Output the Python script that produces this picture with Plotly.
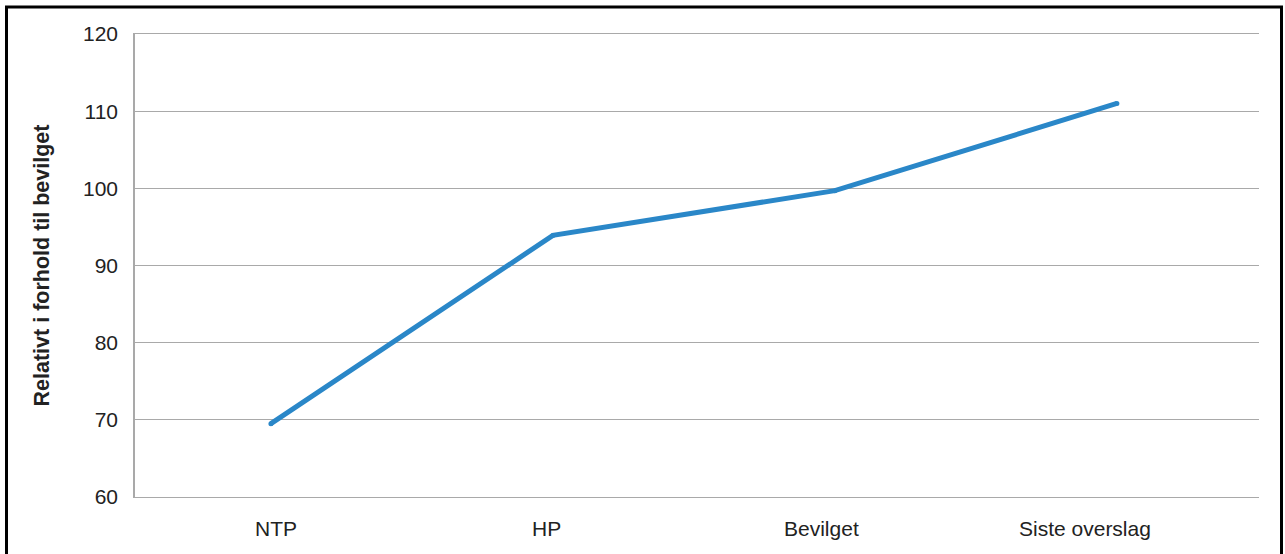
import plotly.graph_objects as go

# Kostnadsutvikling relativt til bevilget ramme
categories = ["NTP", "HP", "Bevilget", "Siste overslag"]
values = [69.5, 93.9, 99.7, 111.0]
y_ticks = [60, 70, 80, 90, 100, 110, 120]

# horizontal nudge of each category label (px)
label_shift = [5, -6, -13, -32]

W, H = 1285, 554
L, R, T, B = 135, 26, 34, 57
pw, ph = W - L - R, H - T - B

LINE_BLUE = "#2A87C8"
GRID = "#A9A9A9"
TEXT = "#222222"
font = "Liberation Sans, Arial, Helvetica, sans-serif"

fig = go.Figure()
fig.add_trace(go.Scatter(
    x=categories, y=values, mode="lines+markers",
    line=dict(color=LINE_BLUE, width=5),
    marker=dict(color=LINE_BLUE, size=5, line=dict(width=0)),
    hoverinfo="skip", showlegend=False,
))


def px_x(p):
    return (p - L) / pw


def px_y(p):
    return 1 - (p - T) / ph


annotations = [
    dict(text=c, x=c, xref="x", y=0, yref="paper",
         xanchor="center", yanchor="top", xshift=s, yshift=-18,
         showarrow=False, font=dict(family=font, size=21, color=TEXT))
    for c, s in zip(categories, label_shift)
]

fig.update_layout(
    width=W, height=H,
    margin=dict(l=L, r=R, t=T, b=B),
    paper_bgcolor="white", plot_bgcolor="white",
    font=dict(family=font, size=21, color=TEXT),
    xaxis=dict(
        type="category", range=[-0.482, 3.504],
        showgrid=False, zeroline=False,
        showline=True, mirror=True, linecolor=GRID, linewidth=1.3,
        ticks="", showticklabels=False,
    ),
    yaxis=dict(
        range=[60, 120], tickvals=y_ticks,
        showgrid=True, gridcolor=GRID, gridwidth=1.3,
        zeroline=False, showline=True, linecolor=GRID, linewidth=1.6,
        ticks="", ticklabelstandoff=11,
        tickfont=dict(size=21, color=TEXT),
        title=dict(text="<b>Relativt i forhold til bevilget</b>",
                   font=dict(size=21.5, color=TEXT), standoff=27),
    ),
    annotations=annotations,
    shapes=[dict(
        type="rect", xref="paper", yref="paper",
        x0=px_x(6.5), x1=px_x(1281.5), y0=px_y(620), y1=px_y(7),
        line=dict(color="black", width=3), fillcolor="rgba(0,0,0,0)",
        layer="above",
    )],
)

fig.write_html("out.html")
